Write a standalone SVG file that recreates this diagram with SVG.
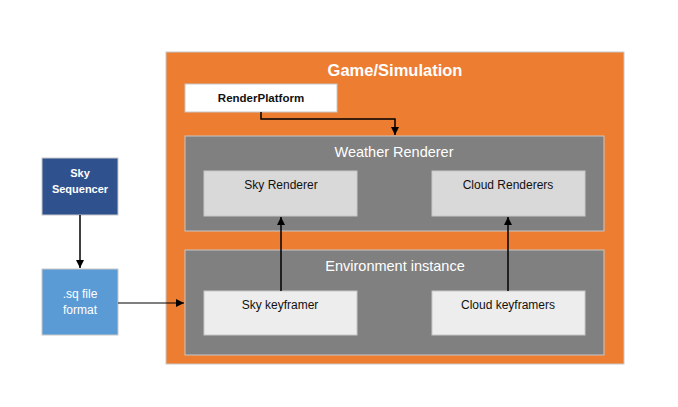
<svg xmlns="http://www.w3.org/2000/svg" width="678" height="407" viewBox="0 0 678 407">
<defs>
<marker id="ah2" viewBox="0 0 10 10" refX="10" refY="5" markerWidth="8" markerHeight="8" orient="auto" markerUnits="userSpaceOnUse">
<path d="M0,0 L10,5 L0,10 z" fill="#000"/>
</marker>
</defs>
<style>
text{font-family:"Liberation Sans",Arial,sans-serif;text-anchor:middle}
.box{stroke:#c8c8c8;stroke-width:1}
.t{font-size:12px;fill:#111}
.tw{font-size:14.5px;fill:#fff}
.conn{stroke:#000;stroke-width:1.5;fill:none;marker-end:url(#ah2)}
</style>
<rect width="678" height="407" fill="#fff"/>
<g id="game">
<rect class="box" x="166" y="52" width="458" height="312" fill="#ED7D31" stroke="#d0d0d0"/>
<text x="395" y="76" font-size="16.5" font-weight="bold" fill="#fff">Game/Simulation</text>
</g>
<g id="renderplatform">
<rect class="box" x="185" y="84" width="152" height="28" fill="#fff"/>
<text x="261" y="102" font-size="11.5" font-weight="bold" fill="#111">RenderPlatform</text>
</g>
<g id="weather">
<rect class="box" x="185" y="136" width="419" height="95" fill="#808080" stroke="#d9d9d9"/>
<text class="tw" x="394" y="157">Weather Renderer</text>
</g>
<g id="skyrenderer">
<rect class="box" x="204" y="171" width="153" height="45" fill="#D9D9D9" stroke="#e8e8e8"/>
<text class="t" x="281" y="189">Sky Renderer</text>
</g>
<g id="cloudrenderers">
<rect class="box" x="432" y="171" width="153" height="45" fill="#D9D9D9" stroke="#e8e8e8"/>
<text class="t" x="508" y="189">Cloud Renderers</text>
</g>
<g id="environment">
<rect class="box" x="185" y="250" width="419" height="105" fill="#808080" stroke="#d9d9d9"/>
<text class="tw" x="395" y="271">Environment instance</text>
</g>
<g id="skykeyframer">
<rect class="box" x="204" y="291" width="153" height="44" fill="#EDEDED" stroke="#e8e8e8"/>
<text class="t" x="280" y="309">Sky keyframer</text>
</g>
<g id="cloudkeyframers">
<rect class="box" x="432" y="291" width="153" height="44" fill="#EDEDED" stroke="#e8e8e8"/>
<text class="t" x="508" y="309">Cloud keyframers</text>
</g>
<g id="skysequencer">
<rect class="box" x="42" y="158" width="76" height="57" fill="#2F528F" stroke="#c8d4e8"/>
<text x="80" y="177" font-size="11" font-weight="bold" fill="#fff">Sky</text>
<text x="80" y="193" font-size="11" font-weight="bold" fill="#fff">Sequencer</text>
</g>
<g id="sqfile">
<rect class="box" x="42" y="269" width="76" height="66" fill="#5B9BD5" stroke="#c8d4e8"/>
<text x="80" y="298" font-size="12" fill="#fff">.sq file</text>
<text x="80" y="314" font-size="12" fill="#fff">format</text>
</g>
<g id="connectors">
<path class="conn" d="M261,112 V119 H395 V135"/>
<path class="conn" d="M281,291 V217"/>
<path class="conn" d="M508,291 V217"/>
<path class="conn" d="M80,215 V268"/>
<path class="conn" d="M118,303 H184" style="stroke-width:1.2"/>
</g>
</svg>
